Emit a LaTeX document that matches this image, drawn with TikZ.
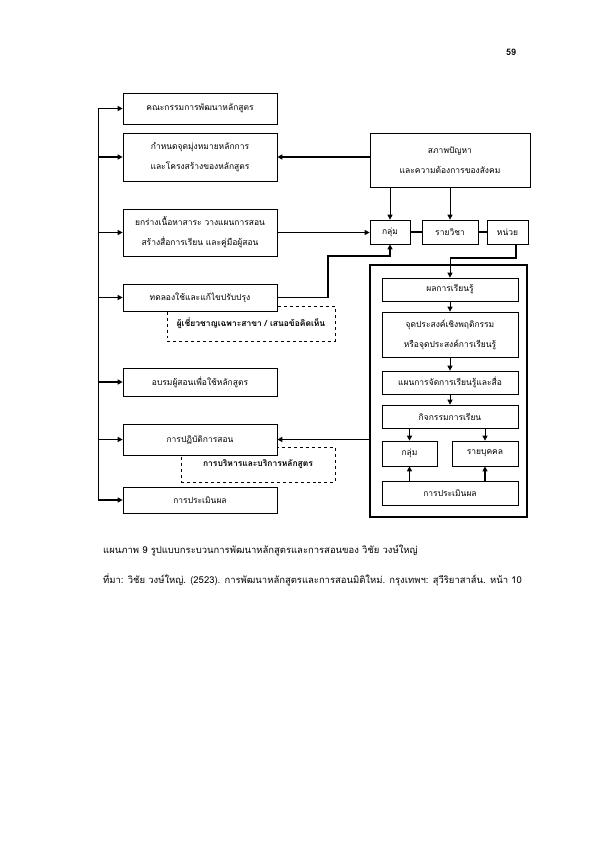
\documentclass[tikz,border=0pt]{standalone}
\usepackage{fontspec}
\setmainfont{Loma}[Script=Thai]
\usetikzlibrary{arrows.meta}
\begin{document}
\begin{tikzpicture}[x=1bp,y=-1bp,
  box/.style={draw, line width=0.7pt, fill=white, align=center, inner sep=0pt,
    font=\fontsize{8.5}{20}\selectfont},
  dbox/.style={draw, dashed, line width=0.8pt, align=center, inner sep=0pt,
    font=\fontsize{8.5}{20}\selectfont\bfseries},
  thk/.style={line width=1.4pt},
  thn/.style={line width=0.7pt},
  arr/.style={-{Triangle[length=5bp,width=5bp]}},
]
\useasboundingbox (0,0) rectangle (595,842);
\fill[white] (0,0) rectangle (595,842);

% page number
\node[font=\fontsize{9}{11}\selectfont\bfseries] (pg) at (511,52) {59};

% dashed boxes (behind)
\node[dbox, minimum width=168bp, minimum height=35bp] (d1) at (251,323.5) {ผู้เชี่ยวชาญเฉพาะสาขา / เสนอข้อคิดเห็น};
\node[dbox, minimum width=154bp, minimum height=35bp] (d2) at (258,464.5) {\raisebox{-2bp}{การบริหารและบริการหลักสูตร}};

% left column
\node[box, minimum width=154bp, minimum height=31bp] (b1) at (200,108.5) {คณะกรรมการพัฒนาหลักสูตร};
\node[box, minimum width=154bp, minimum height=48bp] (b2) at (200,157) {กำหนดจุดมุ่งหมายหลักการ\\และโครงสร้างของหลักสูตร};
\node[box, minimum width=154bp, minimum height=47bp] (b3) at (200,232.5) {ยกร่างเนื้อหาสาระ วางแผนการสอน\\สร้างสื่อการเรียน และคู่มือผู้สอน};
\node[box, minimum width=154bp, minimum height=27bp] (b4) at (200,297.5) {ทดลองใช้และแก้ไขปรับปรุง};
\node[box, minimum width=154bp, minimum height=28bp] (b5) at (200,382) {อบรมผู้สอนเพื่อใช้หลักสูตร};
\node[box, minimum width=154bp, minimum height=31bp] (b6) at (200,439.5) {การปฏิบัติการสอน};
\node[box, minimum width=154bp, minimum height=26bp] (b7) at (200,500) {การประเมินผล};

% bus
\coordinate (bt) at (98,108.5);
\coordinate (bb) at (98,500);
\draw[line width=1pt] (bt) -- (bb);
\foreach \b in {b1,b2,b3,b4,b5,b6,b7}
  \draw[thk,arr] (\b.west -| bt) -- (\b.west);

% right top
\node[box, minimum width=160bp, minimum height=54bp] (S) at (450,160) {สภาพปัญหา\\และความต้องการของสังคม};
\node[box, minimum width=40bp, minimum height=24bp] (G1) at (390,232) {กลุ่ม};
\node[box, minimum width=56bp, minimum height=24bp] (R) at (450,232) {รายวิชา};
\node[box, minimum width=41bp, minimum height=24bp] (U) at (507.5,232) {หน่วย};

\draw[thk,arr] (S.west |- b2.east) -- (b2.east);
\draw[thn,arr] (S.south -| G1.north) -- (G1.north);
\draw[thn,arr] (S.south -| R.north) -- (R.north);
\draw[thk] (G1.east) -- (R.west);
\draw[thk] (R.east) -- (U.west);
\draw[thk,arr] (b3.east) -- (b3.east -| G1.west);
\coordinate (k1) at (328,256);
\draw[thk,arr] (b4.east) -| (k1) -- (k1 -| G1.south) -- (G1.south);

% big box
\node[draw, line width=1.5pt, minimum width=157bp, minimum height=252bp, inner sep=0pt] (B) at (448.5,391) {};
\node[box, minimum width=136bp, minimum height=23bp] (P1) at (450,289.5) {ผลการเรียนรู้};
\node[box, minimum width=136bp, minimum height=45bp] (P2) at (450,334.5) {จุดประสงค์เชิงพฤติกรรม\\หรือจุดประสงค์การเรียนรู้};
\node[box, minimum width=136bp, minimum height=23bp] (P3) at (450,382.5) {แผนการจัดการเรียนรู้และสื่อ};
\node[box, minimum width=136bp, minimum height=23bp] (P4) at (450,416.5) {กิจกรรมการเรียน};
\node[box, minimum width=55bp, minimum height=25bp] (Q1) at (409.5,453.5) {กลุ่ม};
\node[box, minimum width=66bp, minimum height=25bp] (Q2) at (485,453.5) {รายบุคคล};
\node[box, minimum width=136bp, minimum height=24bp] (P5) at (450,493) {การประเมินผล};

\coordinate (u1) at (516,258);
\draw[thk] (U.south -| u1) -- (u1) -- (u1 -| P1.north);
\draw[thn,arr] (u1 -| P1.north) -- (P1.north);
\draw[thn,arr] (P1.south) -- (P2.north);
\draw[thn,arr] (P2.south) -- (P3.north);
\draw[thn,arr] (P3.south) -- (P4.north);
\draw[thn,arr] (P4.south -| Q1.north) -- (Q1.north);
\draw[thn,arr] (P4.south -| Q2.north) -- (Q2.north);
\draw[thk,arr] (P5.north -| Q1.south) -- (Q1.south);
\draw[thk,arr] (P5.north -| Q2.south) -- (Q2.south);
\draw[thk,arr] (B.west |- b6.east) -- (b6.east);

% captions
\node[anchor=base west, inner sep=0pt, font=\fontsize{9.5}{12}\selectfont] (c1) at (103,553) {แผนภาพ 9 รูปแบบกระบวนการพัฒนาหลักสูตรและการสอนของ วิชัย วงษ์ใหญ่};
\node[anchor=base west, inner sep=0pt, font=\fontsize{9.5}{12}\selectfont] (c2) at (103,583) {ที่มา: วิชัย วงษ์ใหญ่. (2523). การพัฒนาหลักสูตรและการสอนมิติใหม่. กรุงเทพฯ: สุวีริยาสาส์น. หน้า 10};
\end{tikzpicture}
\end{document}
